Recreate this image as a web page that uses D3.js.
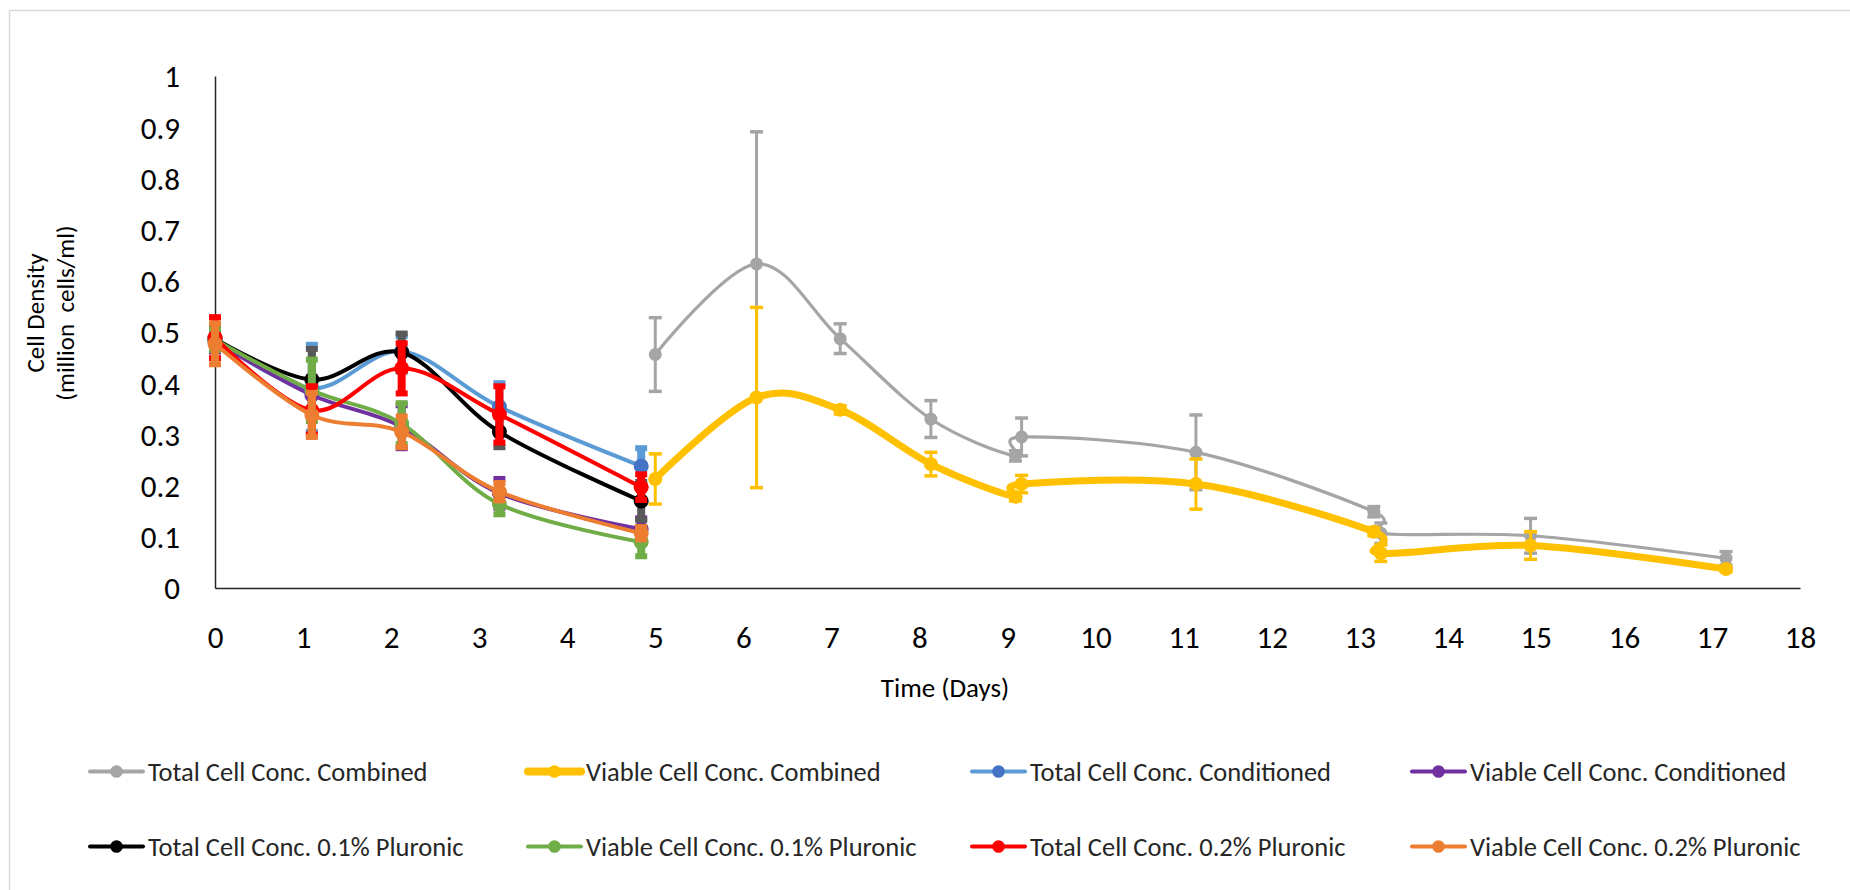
<!DOCTYPE html>
<html>
<head>
<meta charset="utf-8">
<script src="https://cdn.jsdelivr.net/npm/d3@7"></script>
<style>
  html, body { margin: 0; padding: 0; background: #fff; }
  svg { display: block; font-family: Calibri, Carlito, "Open Sans", sans-serif; }
</style>
</head>
<body>
<svg id="chart" width="1850" height="890"></svg>
<script>
// Sampling days for the pluronic / conditioned runs and for the combined run
const earlyDays    = [0, 1.10, 2.12, 3.23, 4.84];
const combinedDays = [5.0, 6.15, 7.10, 8.13, 9.09, 9.16, 11.14, 13.16, 13.24, 14.94, 17.16];

// Cell densities (million cells/ml) and their error bars
const totalCombined      = [0.456, 0.633, 0.487, 0.330, 0.258, 0.295, 0.265, 0.149, 0.107, 0.102, 0.058];
const totalCombinedErr   = [0.072, 0.258, 0.029, 0.036, 0.010, 0.037, 0.073, 0.010, 0.020, 0.034, 0.013];
const viableCombined     = [0.213, 0.372, 0.348, 0.242, 0.178, 0.203, 0.203, 0.110, 0.068, 0.083, 0.037];
const viableCombinedErr  = [0.049, 0.176, 0.008, 0.023, 0.008, 0.017, 0.049, 0.008, 0.016, 0.027, 0.005];

const totalConditioned     = [0.485, 0.390, 0.462, 0.354, 0.238];
const totalConditionedErr  = [0.020, 0.085, 0.030, 0.046, 0.035];
const viableConditioned    = [0.482, 0.377, 0.315, 0.185, 0.115];
const viableConditionedErr = [0.020, 0.030, 0.042, 0.028, 0.021];

const totalPluronic01      = [0.487, 0.407, 0.460, 0.305, 0.170];
const totalPluronic01Err   = [0.020, 0.060, 0.037, 0.030, 0.037];
const viablePluronic01     = [0.485, 0.386, 0.321, 0.164, 0.090];
const viablePluronic01Err  = [0.020, 0.060, 0.040, 0.020, 0.028];

const totalPluronic02      = [0.489, 0.347, 0.429, 0.339, 0.197];
const totalPluronic02Err   = [0.040, 0.047, 0.049, 0.055, 0.025];
const viablePluronic02     = [0.477, 0.338, 0.305, 0.188, 0.107];
const viablePluronic02Err  = [0.040, 0.043, 0.030, 0.017, 0.012];

const seriesNames = [
  "Total Cell Conc. Combined", "Viable Cell Conc. Combined",
  "Total Cell Conc. Conditioned", "Viable Cell Conc. Conditioned",
  "Total Cell Conc. 0.1% Pluronic", "Viable Cell Conc. 0.1% Pluronic",
  "Total Cell Conc. 0.2% Pluronic", "Viable Cell Conc. 0.2% Pluronic"
];

const xTicks = d3.range(0, 19, 1);
const yTicks = [0, 0.1, 0.2, 0.3, 0.4, 0.5, 0.6, 0.7, 0.8, 0.9, 1];

// Series table assembled from the arrays above (with drawing styles)
const series = [
  { name: seriesNames[0], x: combinedDays, y: totalCombined,      e: totalCombinedErr,      line: "#A5A5A5", marker: "#A5A5A5", bar: "#A5A5A5", lw: 3.2, r: 6.5, thick: false },
  { name: seriesNames[1], x: combinedDays, y: viableCombined,     e: viableCombinedErr,     line: "#FFC000", marker: "#FFC000", bar: "#FFC000", lw: 7,   r: 7,   thick: false },
  { name: seriesNames[2], x: earlyDays,    y: totalConditioned,   e: totalConditionedErr,   line: "#5B9BD5", marker: "#4472C4", bar: "#5B9BD5", lw: 4,   r: 7.5, thick: true },
  { name: seriesNames[3], x: earlyDays,    y: viableConditioned,  e: viableConditionedErr,  line: "#7030A0", marker: "#7030A0", bar: "#7030A0", lw: 4,   r: 7.5, thick: true },
  { name: seriesNames[4], x: earlyDays,    y: totalPluronic01,    e: totalPluronic01Err,    line: "#000000", marker: "#000000", bar: "#595959", lw: 4,   r: 7.5, thick: true },
  { name: seriesNames[5], x: earlyDays,    y: viablePluronic01,   e: viablePluronic01Err,   line: "#70AD47", marker: "#70AD47", bar: "#70AD47", lw: 4,   r: 7.5, thick: true },
  { name: seriesNames[6], x: earlyDays,    y: totalPluronic02,    e: totalPluronic02Err,    line: "#FF0000", marker: "#FF0000", bar: "#FF0000", lw: 4,   r: 7.5, thick: true },
  { name: seriesNames[7], x: earlyDays,    y: viablePluronic02,   e: viablePluronic02Err,   line: "#ED7D31", marker: "#ED7D31", bar: "#ED7D31", lw: 4,   r: 7.5, thick: true }
];

const svg = d3.select("#chart");

// chart frame
svg.append("rect")
  .attr("x", 9.5).attr("y", 10.5)
  .attr("width", 1900).attr("height", 1000)
  .attr("fill", "#fff").attr("stroke", "#D9D9D9").attr("stroke-width", 1.5);

const x = d3.scaleLinear().domain([0, 18]).range([215, 1800]);
const y = d3.scaleLinear().domain([0, 1]).range([588, 76]);

// axes (lines only, no tick marks)
const xAxis = svg.append("g")
  .attr("transform", `translate(0,${y(0)})`)
  .call(d3.axisBottom(x).tickValues(xTicks).tickSize(0).tickPadding(0).tickFormat(d3.format("d")));
xAxis.select(".domain").attr("stroke", "#262626").attr("stroke-width", 1.5);
xAxis.selectAll(".tick text")
  .attr("y", 49).attr("dy", "0.35em")
  .attr("font-size", 31).attr("fill", "#000")
  .attr("font-family", 'Calibri, Carlito, "Open Sans", sans-serif');

const yAxis = svg.append("g")
  .attr("transform", `translate(${x(0)},0)`)
  .call(d3.axisLeft(y).tickValues(yTicks).tickSize(0).tickPadding(0).tickFormat(d => d === 0 || d === 1 ? String(d) : d.toFixed(1)));
yAxis.select(".domain").attr("stroke", "#262626").attr("stroke-width", 1.5);
yAxis.selectAll(".tick text")
  .attr("x", -35).attr("dy", "0.35em")
  .attr("font-size", 31).attr("fill", "#000")
  .attr("font-family", 'Calibri, Carlito, "Open Sans", sans-serif');

// axis titles
svg.append("text")
  .attr("transform", "translate(35,313) rotate(-90)")
  .attr("text-anchor", "middle").attr("dy", "0.35em")
  .attr("font-size", 25).attr("fill", "#000")
  .text("Cell Density");
svg.append("text")
  .attr("transform", "translate(65,313) rotate(-90)")
  .attr("text-anchor", "middle").attr("dy", "0.35em")
  .attr("font-size", 25).attr("fill", "#000")
  .style("white-space", "pre")
  .text("(million  cells/ml)");
svg.append("text")
  .attr("x", 945).attr("y", 688)
  .attr("text-anchor", "middle").attr("dy", "0.35em")
  .attr("font-size", 27).attr("fill", "#000")
  .text("Time (Days)");

// smoothed series lines, error bars and markers
const line = d3.line()
  .x(d => x(d[0])).y(d => y(d[1]))
  .curve(d3.curveCardinal.tension(0));

const plot = svg.append("g");
series.forEach(s => {
  const pts = s.x.map((d, i) => [d, s.y[i], s.e[i]]);
  const g = plot.append("g");

  g.append("path")
    .datum(pts)
    .attr("d", line)
    .attr("fill", "none")
    .attr("stroke", s.line)
    .attr("stroke-width", s.lw)
    .attr("stroke-linejoin", "round")
    .attr("stroke-linecap", "round");

  const stemW = s.thick ? 8 : 3;
  const capW  = s.thick ? 6 : 3.5;
  const capHalf = s.thick ? 6 : 6.5;
  const bars = g.selectAll(".eb").data(pts).enter().append("g");
  bars.append("line")
    .attr("x1", d => x(d[0])).attr("x2", d => x(d[0]))
    .attr("y1", d => y(d[1] + d[2])).attr("y2", d => y(d[1] - d[2]))
    .attr("stroke", s.bar).attr("stroke-width", stemW);
  [1, -1].forEach(sign => {
    bars.append("line")
      .attr("x1", d => x(d[0]) - capHalf).attr("x2", d => x(d[0]) + capHalf)
      .attr("y1", d => y(d[1] + sign * d[2])).attr("y2", d => y(d[1] + sign * d[2]))
      .attr("stroke", s.bar).attr("stroke-width", capW);
  });

  g.selectAll("circle").data(pts).enter().append("circle")
    .attr("cx", d => x(d[0])).attr("cy", d => y(d[1]))
    .attr("r", s.r).attr("fill", s.marker);
});

// legend: 4 columns x 2 rows
const legendCols = [90, 528, 972, 1412];
const legendRows = [771.5, 846.5];
const legend = svg.append("g");
series.forEach((s, i) => {
  const lx = legendCols[i % 4];
  const ly = legendRows[Math.floor(i / 4)];
  const g = legend.append("g").attr("transform", `translate(${lx},${ly})`);
  g.append("line")
    .attr("x1", 0).attr("x2", 53).attr("y1", 0).attr("y2", 0)
    .attr("stroke", s.line).attr("stroke-width", s.thick ? 4 : (s.lw > 5 ? 8 : 4))
    .attr("stroke-linecap", "round");
  g.append("circle").attr("cx", 26.5).attr("cy", 0).attr("r", 6.3).attr("fill", s.marker);
  g.append("text")
    .attr("x", 58).attr("dy", "0.35em")
    .attr("font-size", 26.5).attr("fill", "#262626")
    .text(s.name);
});
</script>
</body>
</html>
